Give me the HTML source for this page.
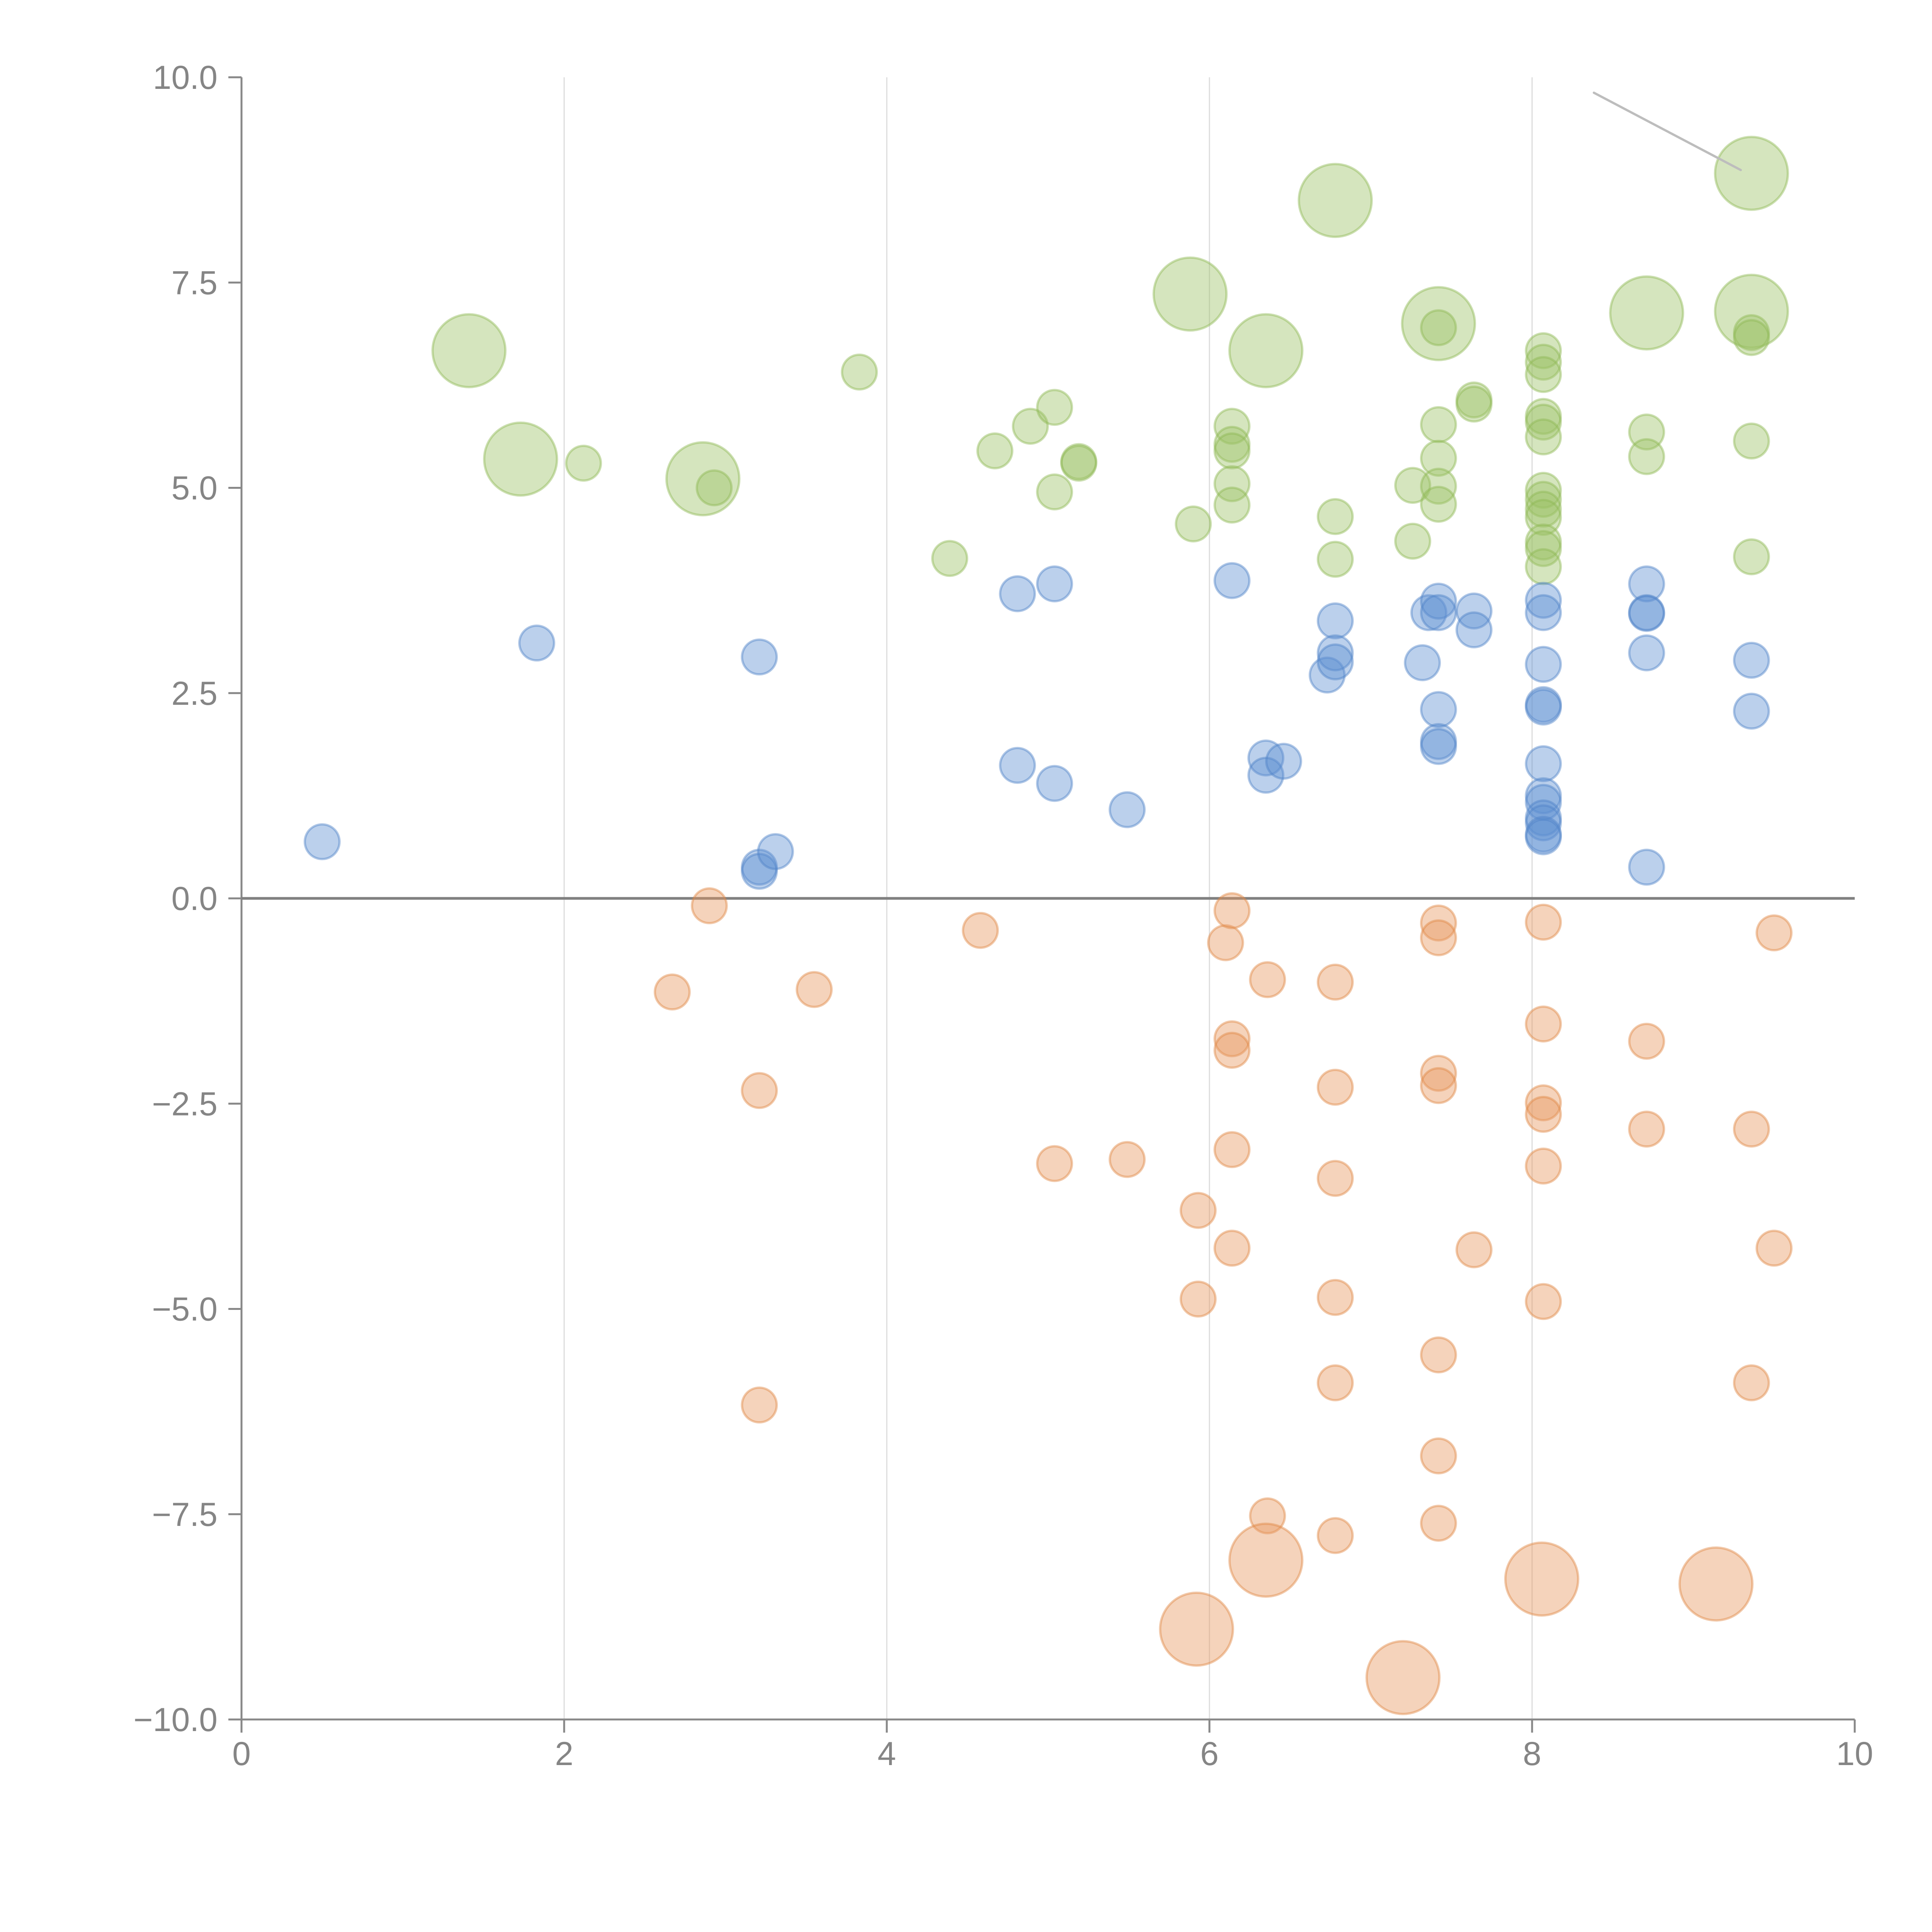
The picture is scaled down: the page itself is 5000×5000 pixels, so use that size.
<!DOCTYPE html>
<html><head><meta charset="utf-8"><style>html,body{margin:0;padding:0;background:#fff}svg{display:block}</style></head>
<body>
<svg id="chart" width="5000" height="5000" viewBox="0 0 5000 5000" xmlns="http://www.w3.org/2000/svg" font-family="Liberation Sans, Arial, sans-serif">
<rect width="5000" height="5000" fill="#fff"/>
<g id="grid"></g>
<g id="axes"></g>
<g id="marks"></g>
</svg>
<script>
const xTicks = [0, 2, 4, 6, 8, 10];
const xTickLabels = ["0", "2", "4", "6", "8", "10"];
const yTicks = [10, 7.5, 5, 2.5, 0, -2.5, -5, -7.5, -10];
const yTickLabels = ["10.0", "7.5", "5.0", "2.5", "0.0", "\u22122.5", "\u22125.0", "\u22127.5", "\u221210.0"];

const greenX = [1.41,1.73,2.86,5.88,6.35,6.78,7.42,8.71,9.36,9.36,
 2.12,2.93,3.83,4.39,4.67,4.89,5.04,5.04,5.19,5.19,5.90,6.14,6.14,6.14,6.14,6.14,6.78,6.78,7.26,7.26,7.42,7.42,7.42,7.42,7.42,7.64,7.64,
 8.07,8.07,8.07,8.07,8.07,8.07,8.07,8.07,8.07,8.07,8.07,8.07,8.07,8.71,8.71,9.36,9.36,9.36,9.36];
const greenY = [6.67,5.35,5.11,7.36,6.67,8.50,7.00,7.13,7.15,8.83,
 5.30,5.00,6.41,4.14,5.45,5.75,5.98,4.95,5.32,5.30,4.56,5.75,5.53,5.45,5.05,4.79,4.65,4.13,4.35,5.03,6.95,5.77,5.36,5.02,4.80,6.07,6.02,
 6.67,6.53,6.38,5.87,5.80,5.62,4.97,4.86,4.74,4.64,4.34,4.26,4.04,5.68,5.38,6.89,6.83,5.57,4.16];
const greenSize = [44,44,44,44,44,44,44,44,44,44,
 10,10,10,10,10,10,10,10,10,10,10,10,10,10,10,10,10,10,10,10,10,10,10,10,10,10,10,
 10,10,10,10,10,10,10,10,10,10,10,10,10,10,10,10,10,10,10];

const blueX = [0.50,1.83,3.21,3.21,3.21,3.31,4.81,4.81,5.04,5.04,5.49,6.14,6.35,6.35,6.46,6.73,6.78,6.78,6.78,7.32,7.36,7.42,7.42,7.42,7.42,7.42,7.64,7.64,
 8.07,8.07,8.07,8.07,8.07,8.07,8.07,8.07,8.07,8.07,8.07,8.07,8.71,8.71,8.71,8.71,8.71,9.36,9.36];
const blueY = [0.69,3.11,2.94,0.38,0.33,0.57,3.71,1.62,3.83,1.40,1.08,3.87,1.71,1.50,1.67,2.72,3.38,2.99,2.88,2.87,3.48,3.62,3.48,2.30,1.91,1.85,3.50,3.27,
 3.63,3.48,2.85,2.36,2.33,1.64,1.25,1.17,0.98,0.92,0.78,0.75,3.83,3.48,3.47,2.99,0.38,2.90,2.28];
const blueSize = blueX.map(() => 10);

const orangeX = [2.90,2.67,3.55,3.21,3.21,4.58,5.04,5.49,5.93,5.93,6.10,6.14,6.14,6.14,6.14,6.14,6.36,6.36,6.78,6.78,6.78,6.78,6.78,6.78,
 7.42,7.42,7.42,7.42,7.42,7.42,7.42,7.64,8.07,8.07,8.07,8.07,8.07,8.07,8.71,8.71,9.36,9.36,9.50,9.50,
 6.35,5.92,7.20,8.06,9.14];
const orangeY = [-0.09,-1.14,-1.11,-2.34,-6.17,-0.39,-3.23,-3.18,-3.80,-4.88,-0.54,-0.15,-1.71,-1.85,-3.06,-4.26,-0.99,-7.52,-1.02,-2.30,-3.41,-4.86,-5.90,-7.76,
 -0.30,-0.48,-2.13,-2.28,-5.56,-6.79,-7.61,-4.28,-0.29,-1.53,-2.49,-2.63,-3.26,-4.91,-1.74,-2.81,-2.81,-5.90,-0.42,-4.26,
 -8.06,-8.90,-9.49,-8.29,-8.35];
const orangeSize = [10,10,10,10,10,10,10,10,10,10,10,10,10,10,10,10,10,10,10,10,10,10,10,10,
 10,10,10,10,10,10,10,10,10,10,10,10,10,10,10,10,10,10,10,10,
 44,44,44,44,44];

const NS = "http://www.w3.org/2000/svg";
const X0 = 625, X1 = 4800, Y0 = 200, Y1 = 4450;
function xs(v){ return X0 + (v - 0) / 10 * (X1 - X0); }
function ys(v){ return Y1 - (v + 10) / 20 * (Y1 - Y0); }
function rs(s){ return 14.2 * Math.sqrt(s); }
function mk(tag, attrs, parent){
  const e = document.createElementNS(NS, tag);
  for (const k in attrs) e.setAttribute(k, attrs[k]);
  parent.appendChild(e);
  return e;
}
const grid = document.getElementById('grid');
const axes = document.getElementById('axes');
const marks = document.getElementById('marks');

xTicks.forEach((t, i) => {
  if (t > 0 && t < 10) {
    const g = mk('line', {x1: xs(t), x2: xs(t), y1: Y0, y2: Y1, stroke: '#dcdcdc', 'stroke-width': 3}, grid);
    
    
  }
  const tk = mk('line', {x1: xs(t), x2: xs(t), y1: Y1, y2: Y1 + 34, stroke: '#888', 'stroke-width': 5}, axes);
  
  
  const lb = mk('text', {x: xs(t), y: 4568, 'text-anchor': 'middle', 'font-size': 86, fill: '#858585'}, axes);
  lb.textContent = xTickLabels[i];
  
  
});
yTicks.forEach((t, i) => {
  const tk = mk('line', {x1: X0 - 34, x2: X0, y1: ys(t), y2: ys(t), stroke: '#888', 'stroke-width': 5}, axes);
  
  
  const lb = mk('text', {x: 563, y: ys(t) + 30, 'text-anchor': 'end', 'font-size': 86, fill: '#858585'}, axes);
  lb.textContent = yTickLabels[i];
  
  
});
const ya = mk('line', {x1: X0, x2: X0, y1: Y0, y2: Y1 + 2, stroke: '#888', 'stroke-width': 5}, axes);


const xa = mk('line', {x1: X0 - 2, x2: X1, y1: Y1, y2: Y1, stroke: '#888', 'stroke-width': 5}, axes);


const zl = mk('line', {x1: X0, x2: X1, y1: ys(0), y2: ys(0), stroke: '#808080', 'stroke-width': 7}, axes);



function drawSeries(xArr, yArr, sArr, fill, stroke, name){
  const g = mk('g', {}, marks);
  
  
  for (let i = 0; i < xArr.length; i++) {
    const c = mk('circle', {cx: xs(xArr[i]), cy: ys(yArr[i]), r: rs(sArr[i]), fill: fill, 'fill-opacity': 0.42, stroke: stroke, 'stroke-opacity': 0.45, 'stroke-width': 6}, g);
    
    
  }
}
drawSeries(greenX, greenY, greenSize, '#9cc264', '#8fb855', 'green');
drawSeries(blueX, blueY, blueSize, '#5e8fd2', '#4f82c8', 'blue');
drawSeries(orangeX, orangeY, orangeSize, '#e6965c', '#e08845', 'orange');

const ll = mk('line', {x1: 4125, y1: 240, x2: 4505, y2: 440, stroke: '#bdbdbd', 'stroke-width': 6, 'stroke-linecap': 'round'}, marks);


</script>
</body></html>
